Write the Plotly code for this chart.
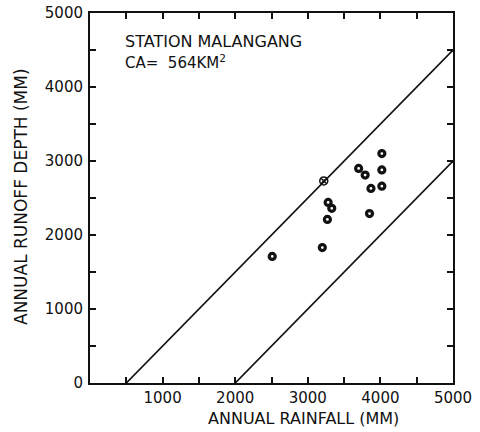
import plotly.graph_objects as go

# Annual rainfall vs runoff depth, station Malangang
rainfall = [2510, 3200, 3270, 3280, 3330, 3850, 3870, 4020, 3700, 3790, 4020, 4020]
runoff = [1710, 1830, 2210, 2440, 2360, 2290, 2630, 2660, 2900, 2810, 2880, 3100]

# Year marked separately (lies on the upper envelope)
special_rainfall = [3220]
special_runoff = [2730]

# Envelope lines: runoff = rainfall - loss
upper_loss = 500
lower_loss = 2000
x_end = 5000

x_ticks = [1000, 2000, 3000, 4000, 5000]
y_ticks = [0, 1000, 2000, 3000, 4000, 5000]

INK = "#111111"
FONT = "DejaVu Sans"

fig = go.Figure()

fig.add_trace(go.Scatter(
    x=[upper_loss, x_end], y=[0, x_end - upper_loss],
    mode="lines", line=dict(color=INK, width=1.7), showlegend=False,
))
fig.add_trace(go.Scatter(
    x=[lower_loss, x_end], y=[0, x_end - lower_loss],
    mode="lines", line=dict(color=INK, width=1.7), showlegend=False,
))
fig.add_trace(go.Scatter(
    x=rainfall, y=runoff, mode="markers",
    marker=dict(symbol="circle-open", size=6, color=INK, line=dict(width=3.2, color=INK)),
    showlegend=False,
))
fig.add_trace(go.Scatter(
    x=special_rainfall, y=special_runoff, mode="markers",
    marker=dict(symbol="circle-x-open", size=8, color=INK, line=dict(width=1.5, color=INK)),
    showlegend=False,
))

# Station label
fig.add_annotation(x=460, y=4620, xref="x", yref="y", xanchor="left", yanchor="middle",
                   text="STATION MALANGANG", showarrow=False,
                   font=dict(family=FONT, size=16, color=INK))
fig.add_annotation(x=460, y=4340, xref="x", yref="y", xanchor="left", yanchor="middle",
                   text="CA=  564KM<sup>2</sup>", showarrow=False,
                   font=dict(family=FONT, size=15, color=INK))

# Axis titles
fig.add_annotation(x=303, y=419, xref="paper", yref="paper", text="ANNUAL RAINFALL (MM)",
                   showarrow=False, xanchor="center", yanchor="middle",
                   font=dict(family=FONT, size=16, color=INK))
fig.add_annotation(x=21, y=197, xref="paper", yref="paper", text="ANNUAL RUNOFF DEPTH (MM)",
                   showarrow=False, xanchor="center", yanchor="middle", textangle=-90,
                   font=dict(family=FONT, size=17, color=INK))

axis_common = dict(
    showgrid=False, zeroline=False, showline=True, linecolor=INK, linewidth=2,
    mirror="allticks", ticks="inside", ticklen=6, tickwidth=1.5, tickcolor=INK,
    minor=dict(ticks="inside", dtick=500, ticklen=6, tickwidth=1.5, tickcolor=INK),
    tickfont=dict(family=FONT, size=15, color=INK),
    automargin=False,
)

fig.update_xaxes(range=[0, 5000], tickvals=x_ticks, ticktext=[str(v) for v in x_ticks],
                 ticklabelstandoff=0, **axis_common)
fig.update_yaxes(range=[0, 5000], tickvals=y_ticks, ticktext=[str(v) for v in y_ticks],
                 ticklabelstandoff=2, **axis_common)

fig.update_layout(
    width=480, height=432,
    margin=dict(l=90, r=27, t=13, b=49),
    paper_bgcolor="white", plot_bgcolor="white",
)

# Axis-title annotations are placed in pixel terms; convert to paper fractions
W, H = 480, 432
ml, mr, mt, mb = 90, 27, 13, 49
pw, ph = W - ml - mr, H - mt - mb
for ann in fig.layout.annotations:
    if ann.xref == "paper":
        ann.x = (ann.x - ml) / pw
        ann.y = (H - mb - ann.y) / ph

fig.write_html("out.html")
